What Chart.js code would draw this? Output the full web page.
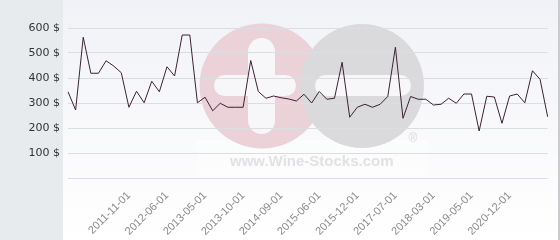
<!DOCTYPE html>
<html>
<head>
<meta charset="utf-8">
<script src="https://cdn.jsdelivr.net/npm/chart.js@4.4.0/dist/chart.umd.min.js"></script>
<style>
  html, body { margin: 0; padding: 0; background: #fff; }
  #wrap { width: 560px; height: 240px; }
</style>
</head>
<body>
<div id="wrap"><canvas id="graficoPrix" width="560" height="240"></canvas></div>
<script>
// Prix relevés (en $), un point par relevé
const prix = [
    345, 272, 563, 419, 419, 469, 448, 421, 283, 347,
    301, 387, 345, 445, 408, 572, 572, 301, 323, 269,
    299, 283, 283, 283, 470, 346, 319, 328, 321, 316,
    308, 335, 300, 346, 315, 319, 463, 243, 283, 295,
    283, 295, 326, 523, 239, 326, 315, 315, 292, 295,
    319, 299, 336, 336, 188, 327, 324, 219, 328, 336,
    301, 429, 395, 245
];

// Dates visibles sur l'axe X et leur position dans la série
const datesAxe = ['2011-11-01', '2012-06-01', '2013-05-01', '2013-10-01', '2014-09-01',
    '2015-06-01', '2015-12-01', '2017-07-01', '2018-03-01', '2019-05-01', '2020-12-01'];
const indexDates = [8, 13, 18, 23, 28, 33, 38, 43, 48, 53, 58];

// Graduations de l'axe Y
const graduationsY = [0, 100, 200, 300, 400, 500, 600];

const categories = prix.map(() => '');
indexDates.forEach((idx, i) => { categories[idx] = datesAxe[i]; });

// Fond, panneau gauche et filigrane
const fondPlugin = {
    id: 'fond',
    beforeDraw(chart) {
        const c = chart.ctx;
        const W = chart.width, H = chart.height;
        c.save();
        const grad = c.createLinearGradient(0, 0, 0, H);
        grad.addColorStop(0, '#f1f2f7');
        grad.addColorStop(1, '#ffffff');
        c.fillStyle = grad;
        c.fillRect(0, 0, W, H);
        c.fillStyle = '#e7ebee';
        c.fillRect(0, 0, 63, H);
        c.fillStyle = '#c9cbce';
        c.fillRect(558, 0, 2, H);

        // filigrane
        c.fillStyle = 'rgba(255,255,255,0.35)';
        c.fillRect(197, 140, 231, 36);
        c.fillStyle = '#ebd2d9';
        c.beginPath(); c.arc(262, 86, 62.5, 0, Math.PI * 2); c.fill();
        c.fillStyle = '#dadadc';
        c.beginPath(); c.arc(362, 86, 62, 0, Math.PI * 2); c.fill();
        c.fillStyle = '#f7f7f9';
        const pilule = (x, y, w, h) => {
            c.beginPath();
            c.roundRect(x, y, w, h, Math.min(w, h) / 2);
            c.fill();
        };
        pilule(248, 38, 27, 96);
        pilule(214, 75, 82, 21);
        pilule(315, 75, 96, 21);
        c.fillStyle = '#e2e2e4';
        c.font = 'bold 15px "Liberation Sans", Arial, sans-serif';
        c.textAlign = 'left';
        c.textBaseline = 'alphabetic';
        c.fillText('www.Wine-Stocks.com', 230, 166);
        c.font = '12px "Liberation Sans", Arial, sans-serif';
        c.fillStyle = '#dadadc';
        c.textAlign = 'center';
        c.textBaseline = 'middle';
        c.fillText('®', 413, 139);
        c.restore();
    }
};

const ctx = document.getElementById('graficoPrix').getContext('2d');
new Chart(ctx, {
    type: 'line',
    data: {
        labels: categories,
        datasets: [{
            label: 'Prix',
            data: prix,
            borderColor: '#3b2232',
            borderWidth: 1,
            pointRadius: 0,
            tension: 0,
            fill: false
        }]
    },
    options: {
        responsive: false,
        animation: false,
        layout: { padding: { top: 28, right: 5, left: 0, bottom: 0 } },
        plugins: {
            legend: { display: false },
            tooltip: { enabled: false }
        },
        scales: {
            x: {
                offset: false,
                grid: { display: false },
                border: { display: false },
                ticks: {
                    autoSkip: false,
                    maxRotation: 45,
                    minRotation: 45,
                    padding: 3,
                    color: '#8a8a8a',
                    font: { family: '"Liberation Sans", Arial, sans-serif', size: 11 },
                    callback: (val, i) => categories[i]
                },
                afterFit: (scale) => { scale.height = 62; }
            },
            y: {
                min: 0,
                max: 600,
                afterBuildTicks: (scale) => { scale.ticks = graduationsY.map(v => ({ value: v })); },
                grid: { color: '#dcdde1', drawTicks: false },
                border: { display: false },
                ticks: {
                    padding: 8,
                    color: '#333333',
                    font: { family: '"DejaVu Sans", sans-serif', size: 11 },
                    callback: (v) => v === 0 ? '' : v + ' $'
                },
                afterFit: (scale) => { scale.width = 68; }
            }
        }
    },
    plugins: [fondPlugin]
});
</script>
</body>
</html>
